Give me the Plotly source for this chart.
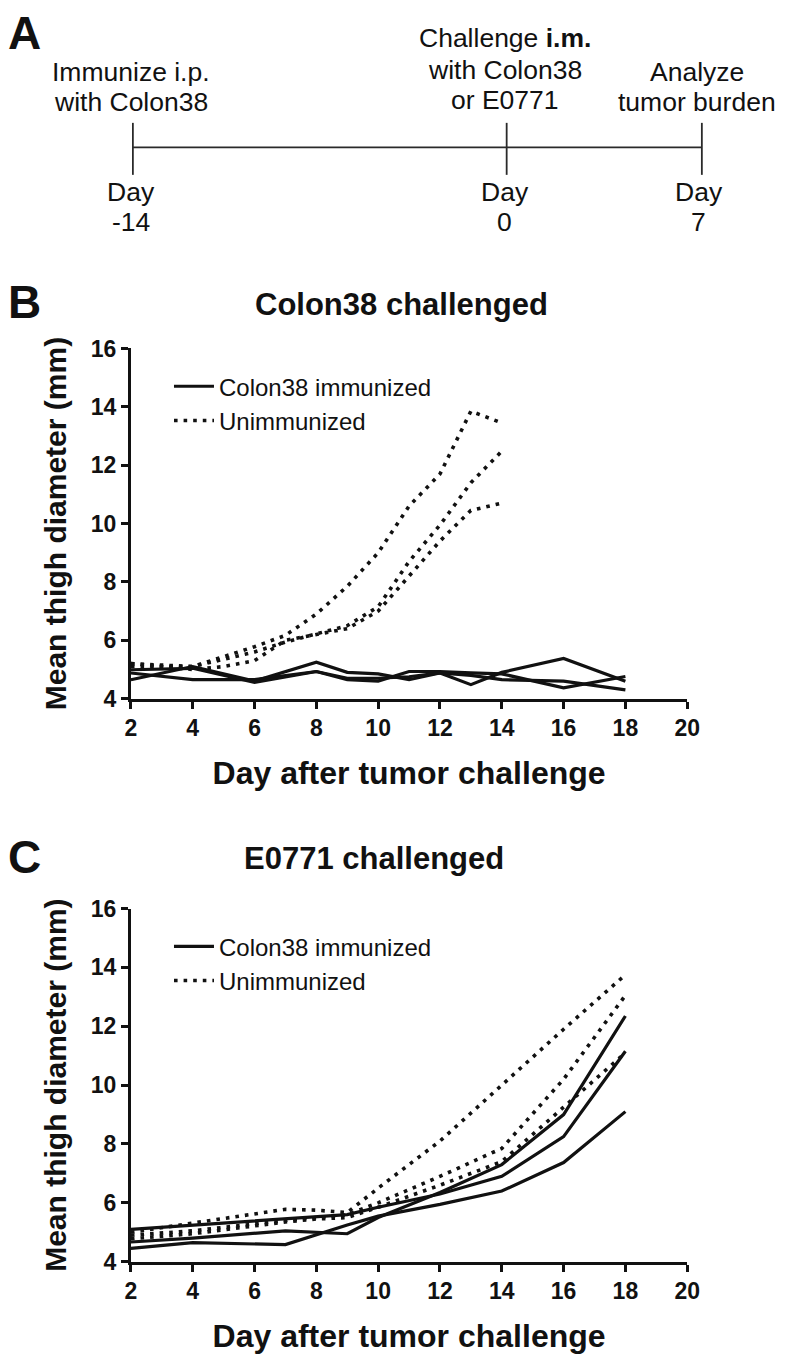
import plotly.graph_objects as go

# ---------------- data ----------------
# Panel B: Colon38 challenged
b_days_imm = [2, 4, 6, 8, 9, 10, 11, 12, 13, 14, 16, 18]
b_imm_1 = [4.65, 5.10, 4.60, 5.25, 4.90, 4.85, 4.65, 4.88, 4.48, 4.90, 5.38, 4.60]
b_imm_2 = [4.88, 4.65, 4.65, 4.93, 4.65, 4.60, 4.93, 4.93, 4.88, 4.85, 4.37, 4.76]
b_imm_3 = [4.99, 5.04, 4.56, 4.93, 4.70, 4.70, 4.75, 4.88, 4.80, 4.65, 4.60, 4.30]

b_days_un = [2, 4, 5, 6, 7, 8, 9, 10, 11, 12, 13, 14]
b_un_1 = [5.20, 5.10, 5.44, 5.78, 6.17, 6.90, 7.85, 9.00, 10.60, 11.70, 13.85, 13.45]
b_un_2 = [5.10, 5.10, 5.35, 5.60, 5.94, 6.22, 6.50, 7.15, 8.70, 9.95, 11.40, 12.48]
b_un_3 = [5.20, 5.00, 5.10, 5.30, 6.00, 6.20, 6.40, 7.00, 8.20, 9.40, 10.45, 10.70]

# Panel C: E0771 challenged
c_days_imm = [2, 4, 7, 9, 10, 12, 14, 16, 18]
c_imm_1 = [5.10, 5.25, 5.45, 5.60, 5.85, 6.30, 6.90, 8.25, 11.15]
c_imm_2 = [4.67, 4.80, 5.05, 4.95, 5.50, 6.35, 7.30, 9.00, 12.35]
c_imm_3 = [4.45, 4.65, 4.58, 5.25, 5.55, 5.95, 6.40, 7.37, 9.10]

c_days_un = [2, 4, 7, 8, 9, 10, 12, 14, 16, 18]
c_un_1 = [5.00, 5.30, 5.78, 5.75, 5.67, 6.50, 8.10, 10.00, 11.90, 13.75]
c_un_2 = [4.90, 5.05, 5.40, 5.50, 5.60, 6.00, 6.90, 7.85, 10.20, 13.05]
c_un_3 = [4.78, 4.95, 5.35, 5.45, 5.50, 5.85, 6.60, 7.40, 9.25, 11.10]

x_ticks = [2, 4, 6, 8, 10, 12, 14, 16, 18, 20]
y_ticks = [4, 6, 8, 10, 12, 14, 16]

legend_names = ["Colon38 immunized", "Unimmunized"]

# ---------------- styling ----------------
W, H = 790, 1362
NARROW = "Liberation Sans Narrow, Arial Narrow, Liberation Sans, Arial, sans-serif"
SANS = "Liberation Sans, Arial, sans-serif"
BLACK = "#111111"
SOLID = dict(color=BLACK, width=3.2)
DOTTED = dict(color=BLACK, width=3.6, dash="3.6px,6px")


def px(x):
    return x / W


def py(y):
    return 1 - y / H


fig = go.Figure()


def add_panel(xa, ya, legend, days_imm, imms, days_un, uns):
    for i, vals in enumerate(imms):
        fig.add_trace(go.Scatter(
            x=days_imm, y=vals, mode="lines", line=SOLID,
            name=legend_names[0], legendgroup=legend + "imm",
            showlegend=(i == 0), legend=legend, xaxis=xa, yaxis=ya))
    for i, vals in enumerate(uns):
        fig.add_trace(go.Scatter(
            x=days_un, y=vals, mode="lines", line=DOTTED,
            name=legend_names[1], legendgroup=legend + "un",
            showlegend=(i == 0), legend=legend, xaxis=xa, yaxis=ya))


add_panel("x", "y", "legend", b_days_imm, [b_imm_1, b_imm_2, b_imm_3],
          b_days_un, [b_un_1, b_un_2, b_un_3])
add_panel("x2", "y2", "legend2", c_days_imm, [c_imm_1, c_imm_2, c_imm_3],
          c_days_un, [c_un_1, c_un_2, c_un_3])

axis_common = dict(
    showline=True, linecolor=BLACK, linewidth=3.2, ticks="outside",
    ticklen=7, tickwidth=3, tickcolor=BLACK, showgrid=False, zeroline=False,
    tickfont=dict(family=NARROW, size=23, color=BLACK, weight="bold"),
)

XT = dict(text="Day after tumor challenge", standoff=22,
          font=dict(family=NARROW, size=32, color=BLACK, weight="bold"))
YT = dict(text="Mean thigh diameter (mm)", standoff=16,
          font=dict(family=SANS, size=30, color=BLACK, weight="bold"))

x_dom = [px(128), px(698)]
fig.update_layout(
    xaxis=dict(domain=x_dom, range=[2, 20], tickvals=x_ticks, anchor="y",
               title=XT, **axis_common),
    yaxis=dict(domain=[py(699), py(342)], range=[4, 16], tickvals=y_ticks, anchor="x",
               title=YT, **axis_common),
    xaxis2=dict(domain=x_dom, range=[2, 20], tickvals=x_ticks, anchor="y2",
                title=XT, **axis_common),
    yaxis2=dict(domain=[py(1273), py(913)], range=[4, 16], tickvals=y_ticks, anchor="x2",
                title=YT, **axis_common),
)

legend_common = dict(
    xanchor="left", yanchor="top", bgcolor="rgba(0,0,0,0)",
    font=dict(family=NARROW, size=24, color=BLACK), tracegroupgap=0,
    itemwidth=40,
)
fig.update_layout(
    legend=dict(x=px(167), y=py(358), **legend_common),
    legend2=dict(x=px(167), y=py(929), **legend_common),
)

# ---------------- panel A: timeline ----------------
shapes = []
line_style = dict(color="#2a2a2a", width=1.8)
shapes.append(dict(type="line", xref="paper", yref="paper",
                   x0=px(130), x1=px(713), y0=py(137), y1=py(137), line=line_style))
for xp in (130, 513, 713):
    shapes.append(dict(type="line", xref="paper", yref="paper",
                       x0=px(xp), x1=px(xp), y0=py(112), y1=py(165), line=line_style))
fig.update_layout(shapes=shapes)

ann = []


def text(x, y, s, size=26.5, family=NARROW, bold=False):
    ann.append(dict(x=px(x), y=py(y), xref="paper", yref="paper", text=s,
                    showarrow=False, xanchor="center", yanchor="middle",
                    font=dict(family=family, size=size, color=BLACK,
                              weight="bold" if bold else "normal")))


text(128, 60, "Immunize i.p.")
text(128, 91, "with Colon38")
text(511, 25, "Challenge <b>i.m.</b>")
text(511, 58, "with Colon38")
text(511, 89, "or E0771")
text(708, 60, "Analyze")
text(708, 91, "tumor burden")
for xp, d in ((128, "-14"), (511, "0"), (710, "7")):
    text(xp, 182, "Day")
    text(xp, 213, d)

# panel letters
for y, s in ((20, "A"), (295, "B"), (860, "C")):
    ann.append(dict(x=px(0), y=py(y), xref="paper", yref="paper", text=s,
                    showarrow=False, xanchor="left", yanchor="middle",
                    font=dict(family=SANS, size=46, color=BLACK, weight="bold")))

# subplot titles
text(405, 297, "Colon38 challenged", size=31, bold=True)
text(377, 862, "E0771 challenged", size=31, bold=True)

fig.update_layout(
    annotations=ann,
    width=W, height=H,
    margin=dict(l=0, r=0, t=0, b=0),
    paper_bgcolor="white", plot_bgcolor="white",
    showlegend=True,
)

fig.write_html("out.html", config={"displayModeBar": False},
               post_script="document.body.style.margin='0';document.body.style.overflow='hidden';")
